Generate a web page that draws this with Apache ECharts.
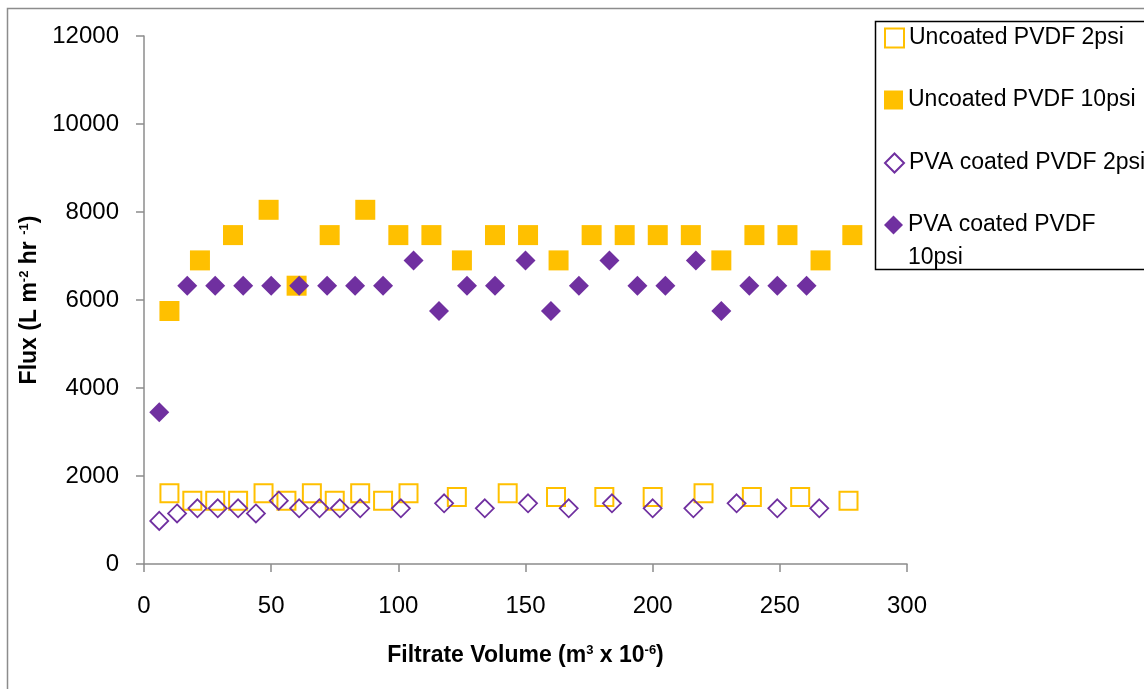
<!DOCTYPE html>
<html>
<head>
<meta charset="utf-8">
<script src="https://cdn.jsdelivr.net/npm/echarts@6/dist/echarts.min.js"></script>
<style>
  html, body { margin: 0; padding: 0; background: #fff; }
  #chart { width: 1144px; height: 689px; }
</style>
</head>
<body>
<div id="chart"></div>
<script>
// Filtrate volume (m^3 x 10^-6) and permeate flux (L m^-2 hr^-1) per membrane / pressure
const uncoated2psiX = [10, 19, 28, 37, 47, 56, 66, 75, 85, 94, 104, 123, 143, 162, 181, 200, 220, 239, 258, 277];
const uncoated2psiY = [1610, 1438, 1438, 1438, 1610, 1438, 1610, 1438, 1610, 1438, 1610, 1525, 1610, 1525, 1525, 1525, 1610, 1525, 1525, 1438];

const uncoated10psiX = [10, 22, 35, 49, 60, 73, 87, 100, 113, 125, 138, 151, 163, 176, 189, 202, 215, 227, 240, 253, 266, 278.5];
const uncoated10psiY = [5750, 6900, 7475, 8050, 6325, 7475, 8050, 7475, 7475, 6900, 7475, 7475, 6900, 7475, 7475, 7475, 7475, 6900, 7475, 7475, 6900, 7475];

const pva2psiX = [6, 13, 21, 29, 37, 44, 53, 61, 69, 77, 85, 101, 118, 134, 151, 167, 184, 200, 216, 233, 249, 265.5];
const pva2psiY = [980, 1150, 1265, 1265, 1265, 1150, 1438, 1265, 1265, 1265, 1265, 1265, 1380, 1265, 1380, 1265, 1380, 1265, 1265, 1380, 1265, 1265];

const pva10psiX = [6, 17, 28, 39, 50, 61, 72, 83, 94, 106, 116, 127, 138, 150, 160, 171, 183, 194, 205, 217, 227, 238, 249, 260.5];
const pva10psiY = [3450, 6325, 6325, 6325, 6325, 6325, 6325, 6325, 6325, 6900, 5750, 6325, 6325, 6900, 5750, 6325, 6900, 6325, 6325, 6900, 5750, 6325, 6325, 6325];

const seriesNames = ['Uncoated PVDF 2psi', 'Uncoated PVDF 10psi', 'PVA coated PVDF 2psi', 'PVA coated PVDF 10psi'];

const X_MIN = 0, X_MAX = 300, X_STEP = 50;
const Y_MIN = 0, Y_MAX = 12000, Y_STEP = 2000;

const ORANGE = '#FFC000';
const PURPLE = '#7030A0';
const AXIS_GRAY = '#8c8c8c';
const FONT = "'Liberation Sans', Arial, sans-serif";

const zip = (xs, ys) => xs.map((x, i) => [x, ys[i]]);

const chart = echarts.init(document.getElementById('chart'), null, { renderer: 'canvas' });

// one legend block per entry so each row sits at its own height
const legendRows = [36, 98, 161, 223];
const ICON = 19;
const legends = seriesNames.map((name, i) => ({
  data: [name],
  left: 884,
  top: legendRows[i] - ICON / 2,
  orient: 'vertical',
  padding: 0,
  itemWidth: ICON,
  itemHeight: ICON,
  itemGap: 0,
  selectedMode: false,
  formatter: n => (n === 'PVA coated PVDF 10psi' ? 'PVA coated PVDF' : n),
  textStyle: { fontFamily: FONT, fontSize: 23, color: '#000', lineHeight: ICON }
}));

const supRich = {
  b: { fontFamily: FONT, fontSize: 23, fontWeight: 'bold', color: '#000' },
  s: { fontFamily: FONT, fontSize: 13, fontWeight: 'bold', color: '#000', verticalAlign: 'top' }
};

chart.setOption({
  animation: false,
  backgroundColor: '#fff',
  grid: { left: 144, right: 237, top: 36, bottom: 125, containLabel: false },
  legend: legends,
  xAxis: {
    type: 'value',
    min: X_MIN, max: X_MAX, interval: X_STEP,
    name: '{b|Filtrate Volume (m}{s|3}{b| x 10}{s|-6}{b|)}',
    nameLocation: 'middle',
    nameGap: 80,
    nameTextStyle: { rich: supRich },
    axisLine: { onZero: false, lineStyle: { color: AXIS_GRAY, width: 1.5 } },
    axisTick: { show: true, inside: false, length: 8, lineStyle: { color: AXIS_GRAY, width: 1.5 } },
    axisLabel: { fontFamily: FONT, fontSize: 24, color: '#000', margin: 30, formatter: v => String(v) },
    splitLine: { show: false }
  },
  yAxis: {
    type: 'value',
    min: Y_MIN, max: Y_MAX, interval: Y_STEP,
    name: '{b|Flux (L m}{s|-2}{b| hr }{s|-1}{b|)}',
    nameLocation: 'middle',
    nameRotate: 90,
    nameGap: 97,
    nameTextStyle: { rich: supRich },
    axisLine: { show: true, onZero: false, lineStyle: { color: AXIS_GRAY, width: 1.5 } },
    axisTick: { show: true, inside: false, length: 8, lineStyle: { color: AXIS_GRAY, width: 1.5 } },
    axisLabel: { fontFamily: FONT, fontSize: 24, color: '#000', margin: 25, formatter: v => String(v) },
    splitLine: { show: false }
  },
  series: [
    {
      name: seriesNames[0], type: 'scatter', symbol: 'rect', symbolSize: 18,
      itemStyle: { color: 'rgba(255,255,255,0)', borderColor: ORANGE, borderWidth: 2, opacity: 1 },
      data: zip(uncoated2psiX, uncoated2psiY)
    },
    {
      name: seriesNames[1], type: 'scatter', symbol: 'rect', symbolSize: 20,
      itemStyle: { color: ORANGE, opacity: 1 },
      data: zip(uncoated10psiX, uncoated10psiY)
    },
    {
      name: seriesNames[2], type: 'scatter', symbol: 'diamond', symbolSize: 18,
      itemStyle: { color: 'rgba(255,255,255,0)', borderColor: PURPLE, borderWidth: 1.8, opacity: 1 },
      data: zip(pva2psiX, pva2psiY)
    },
    {
      name: seriesNames[3], type: 'scatter', symbol: 'diamond', symbolSize: 20,
      itemStyle: { color: PURPLE, opacity: 1 },
      data: zip(pva10psiX, pva10psiY)
    }
  ],
  graphic: [
    // outer chart frame
    {
      type: 'rect', silent: true, z: -10,
      shape: { x: 7.5, y: 8.5, width: 1200, height: 700 },
      style: { fill: 'none', stroke: AXIS_GRAY, lineWidth: 1.5 }
    },
    // legend frame
    {
      type: 'rect', silent: true, z: -5,
      shape: { x: 875.5, y: 21.5, width: 300, height: 248 },
      style: { fill: '#fff', stroke: '#000', lineWidth: 1.5 }
    },
    // wrapped second line of the last legend entry
    {
      type: 'text', silent: true, z: 10,
      x: 908, y: 258,
      style: { text: '10psi', fontFamily: FONT, fontSize: 23, fill: '#000', verticalAlign: 'middle', align: 'left' }
    }
  ]
});
</script>
</body>
</html>
